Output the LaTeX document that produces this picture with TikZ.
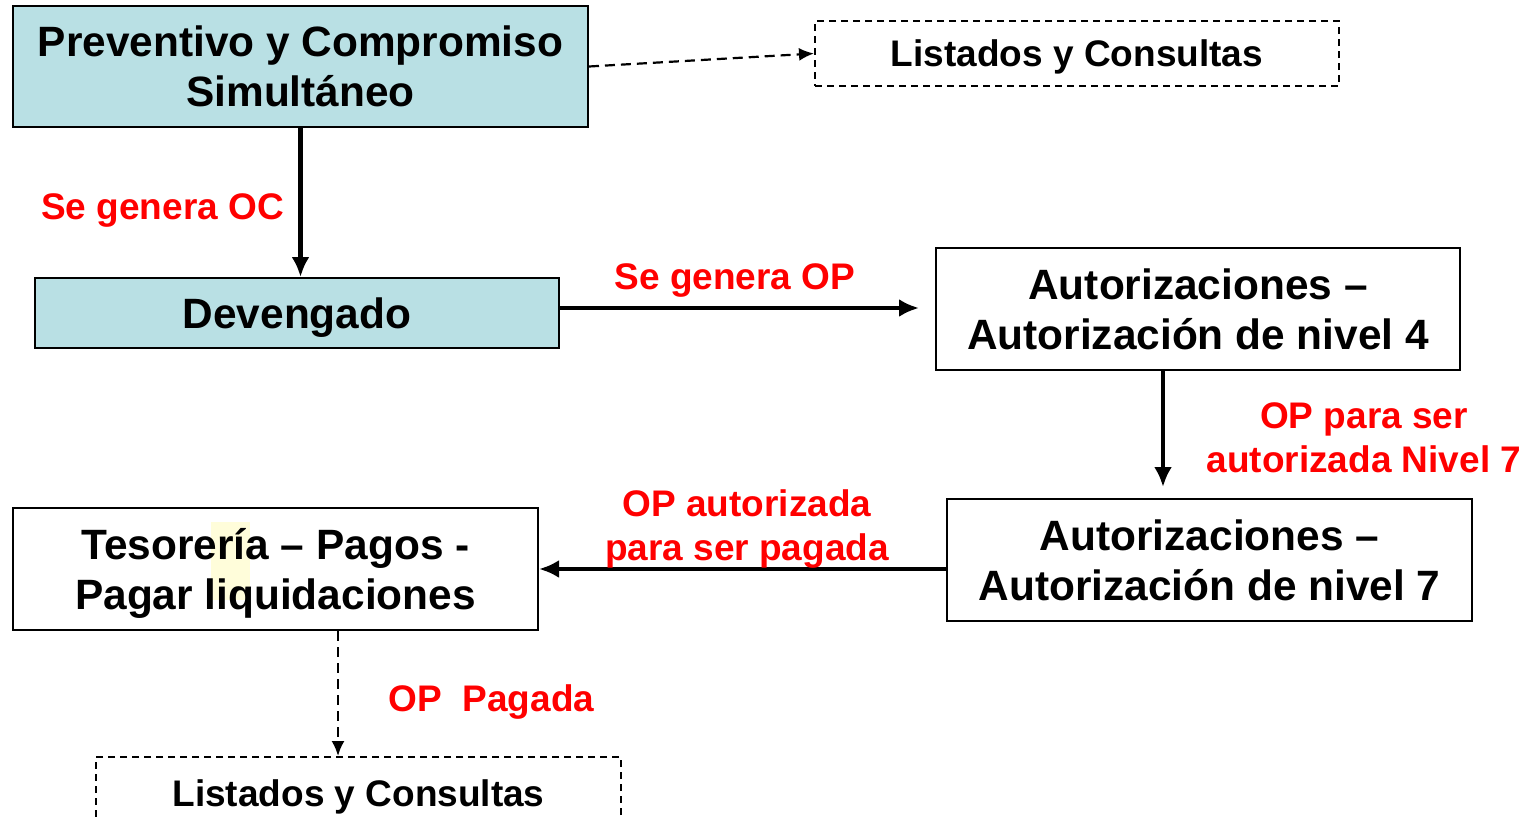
\documentclass[tikz,border=0pt]{standalone}
\usepackage{fontspec}
\setmainfont{Liberation Sans}
\usepackage{xcolor}
\usetikzlibrary{arrows.meta,positioning}
\tikzset{>=Latex}
\definecolor{boxblue}{RGB}{185,224,228}
\definecolor{labelred}{RGB}{255,0,0}
\definecolor{markyellow}{RGB}{255,253,218}
\tikzset{
  stepbox/.style={draw,line width=1pt,inner sep=0pt,align=center,
    minimum width=262pt,minimum height=61pt,text depth=0pt,
    font=\fontsize{21.2}{25}\selectfont\bfseries},
  listbox/.style={draw,line width=1pt,dash pattern=on 3.5pt off 2.5pt,inner sep=0pt,
    minimum width=262pt,minimum height=32.5pt,text depth=0pt,
    font=\fontsize{18.5}{22}\selectfont\bfseries},
  redlabel/.style={text=labelred,align=center,inner sep=0pt,
    font=\fontsize{18.5}{22}\selectfont\bfseries},
  mainarrow/.style={line width=2.3pt,-{Latex[length=10pt,width=9pt]}},
  dasharrow/.style={line width=1.1pt,dash pattern=on 5pt off 3pt,-{Latex[length=7.5pt,width=6.5pt]}}
}

\begin{document}
\begin{tikzpicture}[x=0.5pt,y=-0.5pt]
\useasboundingbox (0,0) rectangle (1536,819);

% Boxes
\node[stepbox,fill=boxblue,minimum width=287.5pt,minimum height=60.5pt] (prev) at (300.5,66.5) {Preventivo y Compromiso\\Simult\'aneo};
\node[stepbox,fill=boxblue,minimum height=35pt] (dev) at (297,313) {Devengado};
\node[listbox] (list1) at (1077,53.5) {Listados y Consultas};
\node[stepbox] (aut4) at (1198,309) {Autorizaciones --\\Autorizaci\'on de nivel 4};
\node[stepbox,minimum width=262.5pt] (aut7) at (1209.5,560) {Autorizaciones --\\Autorizaci\'on de nivel 7};
\fill[markyellow] (211,522) rectangle (250,600);
\node[stepbox,minimum width=262.5pt] (tes) at (275.5,569) {Tesorer\'ia -- Pagos -\\Pagar liquidaciones};
\node[listbox,minimum width=262.5pt,minimum height=36.5pt] (list2) at (358.5,793.5) {Listados y Consultas};

% Arrows
\coordinate (devout) at ([yshift=2.5pt]dev.east);
\coordinate (autout) at ([xshift=-17.5pt]aut4.south);
\coordinate (tesout) at ([xshift=31.25pt]tes.south);
\draw[mainarrow] (prev.south) -- (prev.south |- dev.north);
\draw[dasharrow] (prev.east) -- (list1.west);
\draw[mainarrow,shorten >=8pt] (devout) -- (devout -| aut4.west);
\draw[mainarrow,shorten >=5.5pt] (autout) -- (autout |- aut7.north);
\draw[mainarrow] (aut7.west |- tes.east) -- (tes.east);
\draw[dasharrow] (tesout) -- (tesout |- list2.north);

% Labels
\node[redlabel] (lblOC) at (162.5,210.5) {Se genera OC};
\node[redlabel] (lblOP) at (735,280.5) {Se genera OP};
\node[redlabel] (lblNivel) at (1364,438) {OP para ser\\autorizada Nivel 7};
\node[redlabel] (lblAut) at (747,529) {OP autorizada\\para ser pagada};
\node[redlabel] (lblPagada) at (491.5,702.5) {OP\ \ Pagada};

\end{tikzpicture}
\end{document}
